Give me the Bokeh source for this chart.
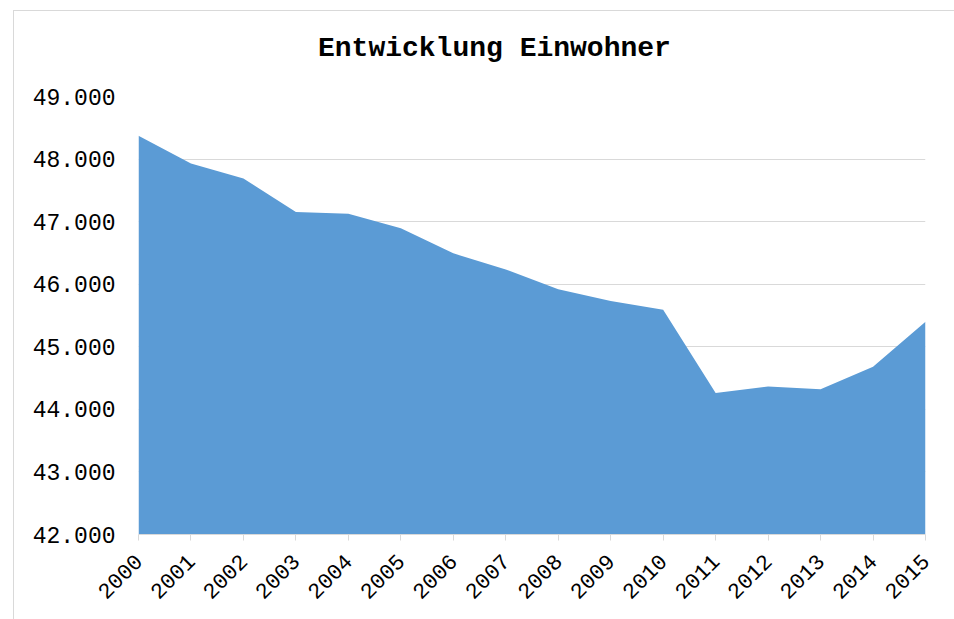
from bokeh.plotting import figure
from bokeh.models import FixedTicker, Range1d, Div
from bokeh.layouts import column
from bokeh.embed import file_html
from bokeh.resources import INLINE
import math

years = [2000, 2001, 2002, 2003, 2004, 2005, 2006, 2007,
         2008, 2009, 2010, 2011, 2012, 2013, 2014, 2015]
einwohner = [48374, 47931, 47690, 47154, 47128, 46895, 46493, 46236,
             45920, 45732, 45592, 44262, 44364, 44321, 44679, 45401]
y_ticks = [42000, 43000, 44000, 45000, 46000, 47000, 48000, 49000]
y_labels = ["42.000", "43.000", "44.000", "45.000",
            "46.000", "47.000", "48.000", "49.000"]
x_labels = [str(y) for y in years]
title_text = "Entwicklung Einwohner"

FONT = "Liberation Mono"
GRID = "#d9d9d9"

title_div = Div(
    text=('<div style="padding:22px 0 0 304px; font-family:\'Liberation Mono\'; '
          'font-weight:bold; font-size:28px; line-height:32px; color:#000000; '
          'white-space:nowrap">' + title_text + '</div>'),
    width=940, height=70, margin=(0, 0, 0, 0))

p = figure(width=940, height=538, output_backend="svg", toolbar_location=None,
           x_range=Range1d(2000, 2015), y_range=Range1d(42000, 49000),
           min_border_left=124, min_border_right=29,
           min_border_top=15, min_border_bottom=85, margin=(0, 0, 0, 0))
p.outline_line_color = None
p.background_fill_color = "white"
p.border_fill_color = "white"

p.varea(x=years, y1=[y_ticks[0]] * len(years), y2=einwohner,
        fill_color="#5B9BD5")

p.xgrid.visible = False
p.ygrid.grid_line_color = GRID
p.ygrid.grid_line_width = 1
p.ygrid.ticker = FixedTicker(ticks=y_ticks)

p.yaxis.ticker = FixedTicker(ticks=y_ticks)
p.yaxis.major_label_overrides = dict(zip(y_ticks, y_labels))
p.yaxis.axis_line_color = None
p.yaxis.major_tick_line_color = None
p.yaxis.minor_tick_line_color = None
p.yaxis.major_label_standoff = 17
p.yaxis.major_label_text_font = FONT
p.yaxis.major_label_text_font_size = "23px"
p.yaxis.major_label_text_color = "#000000"

p.xaxis.ticker = FixedTicker(ticks=years)
p.xaxis.major_label_overrides = dict(zip(years, x_labels))
p.xaxis.axis_line_color = GRID
p.xaxis.axis_line_width = 1
p.xaxis.major_tick_line_color = GRID
p.xaxis.major_tick_out = 6
p.xaxis.major_tick_in = 0
p.xaxis.minor_tick_line_color = None
p.xaxis.major_label_orientation = math.pi / 4
p.xaxis.major_label_standoff = 17
p.xaxis.major_label_text_font = FONT
p.xaxis.major_label_text_font_size = "22px"
p.xaxis.major_label_text_color = "#000000"

layout = column(title_div, p, spacing=0)
layout.styles = {"border-left": "1px solid #d9d9d9", "border-top": "1px solid #d9d9d9",
                 "margin-left": "13px", "margin-top": "10px",
                 "background-color": "white"}

open("out.html", "w").write(file_html(layout, INLINE))
